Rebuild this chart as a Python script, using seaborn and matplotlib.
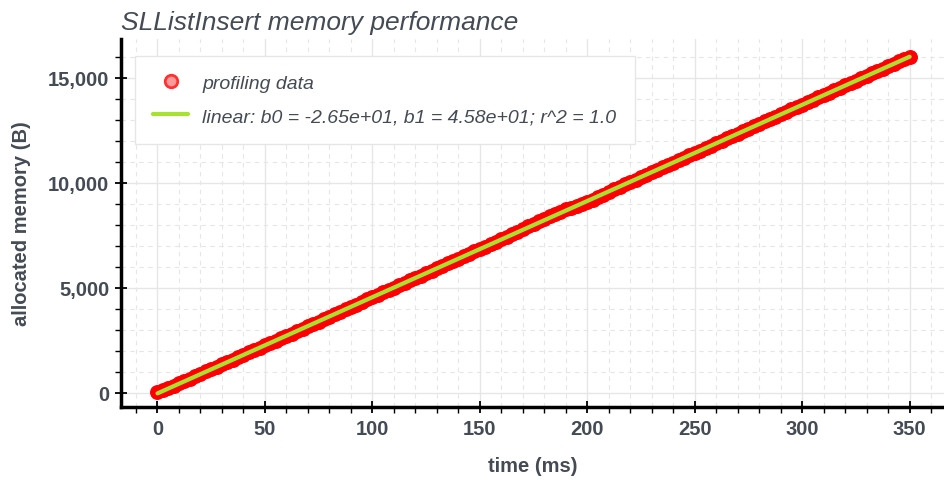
import matplotlib
matplotlib.use("Agg")
import matplotlib.pyplot as plt
import matplotlib.ticker as mticker
from matplotlib.lines import Line2D
import seaborn as sns
import numpy as np

# profiling samples (time in ms, memory in bytes)
time_ms = np.arange(0, 350.1, 2.5)
memory_b = [20, 120, 230, 340, 450, 565, 680, 790, 900, 1015,
            1130, 1240, 1350, 1465, 1580, 1690, 1800, 1920, 2040, 2155,
            2270, 2375, 2480, 2590, 2700, 2815, 2930, 3045, 3160, 3275,
            3390, 3505, 3620, 3740, 3860, 3970, 4080, 4205, 4330, 4445,
            4560, 4675, 4790, 4900, 5010, 5125, 5240, 5355, 5470, 5585,
            5700, 5815, 5930, 6045, 6160, 6275, 6390, 6505, 6620, 6735,
            6850, 6965, 7080, 7200, 7320, 7440, 7560, 7680, 7800, 7920,
            8040, 8165, 8290, 8405, 8520, 8625, 8730, 8815, 8900, 8990,
            9080, 9190, 9300, 9440, 9580, 9695, 9810, 9925, 10040, 10155,
            10270, 10385, 10500, 10615, 10730, 10845, 10960, 11075, 11190, 11305,
            11420, 11535, 11650, 11765, 11880, 11995, 12110, 12225, 12340, 12460,
            12580, 12690, 12800, 12920, 13040, 13150, 13260, 13375, 13490, 13605,
            13720, 13835, 13950, 14065, 14180, 14295, 14410, 14525, 14640, 14755,
            14870, 14980, 15090, 15205, 15320, 15435, 15550, 15665, 15780, 15895,
            16010]
# linear fit coefficients from the legend
b0 = -26.5
b1 = 45.8
fit_label = "linear: b0 = -2.65e+01, b1 = 4.58e+01; r^2 = 1.0"

sns.set_theme(style="white")
plt.rcParams['font.family'] = ['Liberation Sans', 'DejaVu Sans']
txt = '#444b55'

fig = plt.figure(figsize=(9.45, 4.81), dpi=100)
ax = fig.add_axes([0.128, 0.152, 0.871, 0.765])

sns.scatterplot(x=time_ms, y=memory_b, ax=ax, s=95, color='red',
                edgecolor='red', linewidth=1, alpha=1, zorder=3)
sns.lineplot(x=time_ms, y=b0 + b1 * time_ms, ax=ax, color='#a6e22e',
             linewidth=3, zorder=4)

ax.set_xlim(-17, 366)
ax.set_ylim(-670, 16850)
ax.xaxis.set_major_locator(mticker.MultipleLocator(50))
ax.xaxis.set_minor_locator(mticker.MultipleLocator(10))
ax.yaxis.set_major_locator(mticker.MultipleLocator(5000))
ax.yaxis.set_minor_locator(mticker.MultipleLocator(1000))
ax.yaxis.set_major_formatter(mticker.FuncFormatter(lambda v, p: f"{int(v):,}"))

ax.grid(which='major', color='#e6e6e6', linewidth=1)
ax.grid(which='minor', color='#e6e6e6', linewidth=0.8, linestyle=(0, (4, 4)))
ax.set_axisbelow(True)

for s in ['top', 'right']:
    ax.spines[s].set_visible(False)
for s in ['left', 'bottom']:
    ax.spines[s].set_color('black')
    ax.spines[s].set_linewidth(2.5)

ax.tick_params(which='major', direction='inout', length=9, width=1.3,
               color='black', labelsize=14.5, labelcolor=txt, pad=4)
ax.tick_params(which='minor', direction='out', length=4, width=1, color='black')
ax.tick_params(axis='both', which='both', bottom=True, left=True)
for lab in ax.get_xticklabels() + ax.get_yticklabels():
    lab.set_fontweight('bold')

ax.set_xlabel("time (ms)", fontsize=14.5, fontweight='bold', color=txt, labelpad=13)
ax.set_ylabel("allocated memory (B)", fontsize=14.5, fontweight='bold', color=txt, labelpad=12)
ax.set_title("SLListInsert memory performance", loc='left', fontsize=19,
             fontstyle='italic', color=txt, pad=7)

handles = [Line2D([], [], marker='o', linestyle='none', markersize=9,
                  markerfacecolor='#ff9a9a', markeredgecolor='#ff3030', markeredgewidth=2),
           Line2D([], [], color='#a6e22e', linewidth=3)]
leg = ax.legend(handles, ["profiling data", fit_label], loc='upper left',
                bbox_to_anchor=(0.017, 0.954), borderaxespad=0, frameon=True,
                fancybox=False, edgecolor='#e6e6e6', framealpha=1, borderpad=0.95,
                labelspacing=0.8, handlelength=1.8, handletextpad=0.7,
                prop={'style': 'italic', 'size': 14})
for t in leg.get_texts():
    t.set_color(txt)

fig.savefig("out.png", dpi=100)
